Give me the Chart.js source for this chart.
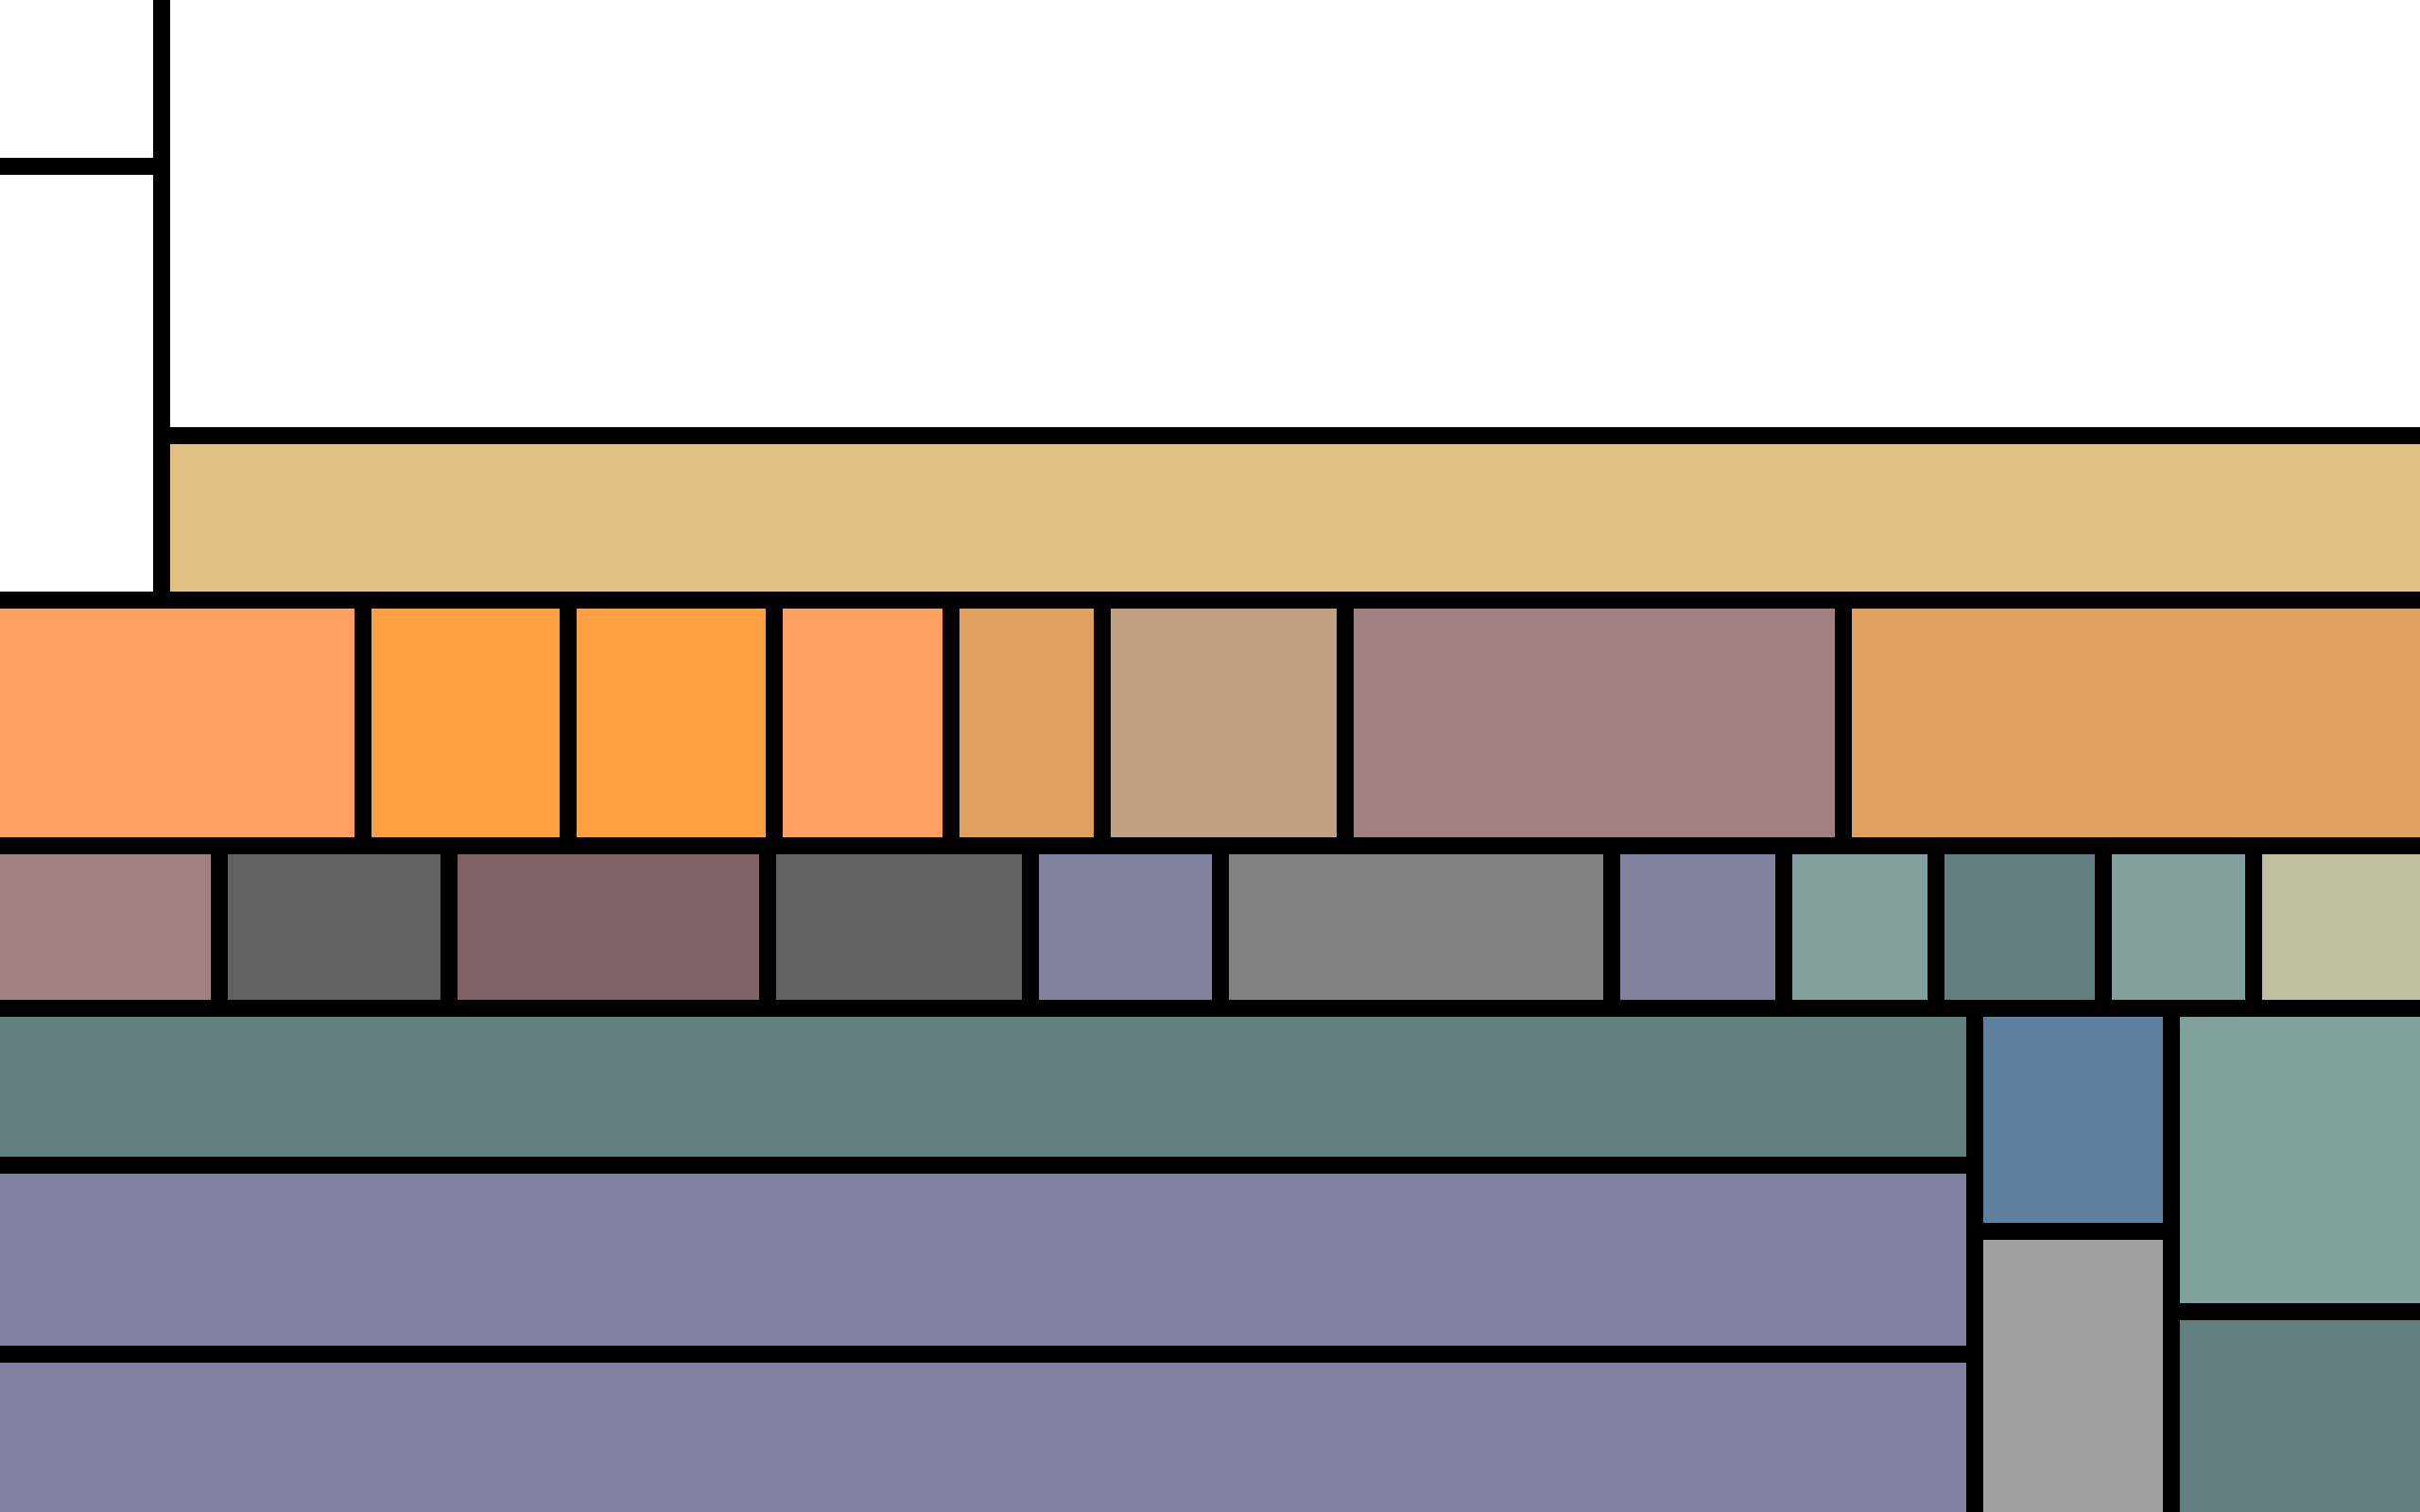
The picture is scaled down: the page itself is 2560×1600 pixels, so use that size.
<!DOCTYPE html>
<html>
<head>
<meta charset="utf-8">
<script src="https://cdn.jsdelivr.net/npm/chart.js@4/dist/chart.umd.min.js"></script>
<style>
  html, body { margin: 0; padding: 0; background: #ffffff; overflow: hidden; }
  #wrap { width: 2560px; height: 1600px; }
</style>
</head>
<body>
<div id="wrap"><canvas id="c" width="2560" height="1600"></canvas></div>
<script>
// Treemap cells (data units), one entry per cell
const xStart = [-5, -5, 17.1, 17.1,
  -5, 38.4, 60.1, 81.9, 100.6, 116.6, 142.3, 195.0,
  -5, 23.2, 47.5, 81.2, 109.0, 129.1, 170.5, 188.7, 204.8, 222.5, 238.4,
  -5, -5, -5, 208.9, 208.9, 229.7, 229.7];
const xEnd = [17.1, 17.1, 261, 261,
  38.4, 60.1, 81.9, 100.6, 116.6, 142.3, 195.0, 261,
  23.2, 47.5, 81.2, 109.0, 129.1, 170.5, 188.7, 204.8, 222.5, 238.4, 261,
  208.9, 208.9, 208.9, 229.7, 229.7, 261, 261];
const yStart = [-5, 17.6, -5, 46.1,
  63.5, 63.5, 63.5, 63.5, 63.5, 63.5, 63.5, 63.5,
  89.5, 89.5, 89.5, 89.5, 89.5, 89.5, 89.5, 89.5, 89.5, 89.5, 89.5,
  106.7, 123.3, 143.3, 106.7, 130.3, 106.7, 138.8];
const yEnd = [17.6, 63.5, 46.1, 63.5,
  89.5, 89.5, 89.5, 89.5, 89.5, 89.5, 89.5, 89.5,
  106.7, 106.7, 106.7, 106.7, 106.7, 106.7, 106.7, 106.7, 106.7, 106.7, 106.7,
  123.3, 143.3, 165, 130.3, 165, 138.8, 165];
const cellColors = ['#ffffff', '#ffffff', '#ffffff', '#e0c083',
  '#ffa062', '#fea041', '#fea041', '#ffa062', '#e0a060', '#c1a081', '#a08081', '#e0a060',
  '#a08081', '#626262', '#806164', '#626262', '#8282a0', '#818181', '#8282a0', '#81a09e', '#617f7e', '#81a09e', '#c0bf9e',
  '#617f7e', '#8081a0', '#8081a0', '#6080a0', '#a0a0a0', '#80a09e', '#617f7e'];

const datasets = xStart.map((x0, i) => ({
  data: [
    { x: x0, y: yStart[i] },
    { x: xEnd[i], y: yStart[i] },
    { x: xEnd[i], y: yEnd[i] },
    { x: x0, y: yEnd[i] },
    { x: x0, y: yStart[i] }
  ],
  backgroundColor: cellColors[i],
  borderColor: '#000000',
  borderWidth: 18,
  borderJoinStyle: 'miter',
  borderCapStyle: 'square',
  fill: 'shape',
  pointRadius: 0,
  pointHoverRadius: 0,
  tension: 0,
  clip: false
}));

new Chart(document.getElementById('c'), {
  type: 'line',
  data: { datasets },
  options: {
    responsive: false,
    animation: false,
    devicePixelRatio: 1,
    layout: { padding: 0 },
    events: [],
    plugins: { legend: { display: false }, tooltip: { enabled: false } },
    scales: {
      x: { type: 'linear', min: 0, max: 256, display: false },
      y: { type: 'linear', min: 0, max: 160, reverse: true, display: false }
    }
  }
});
</script>
</body>
</html>
